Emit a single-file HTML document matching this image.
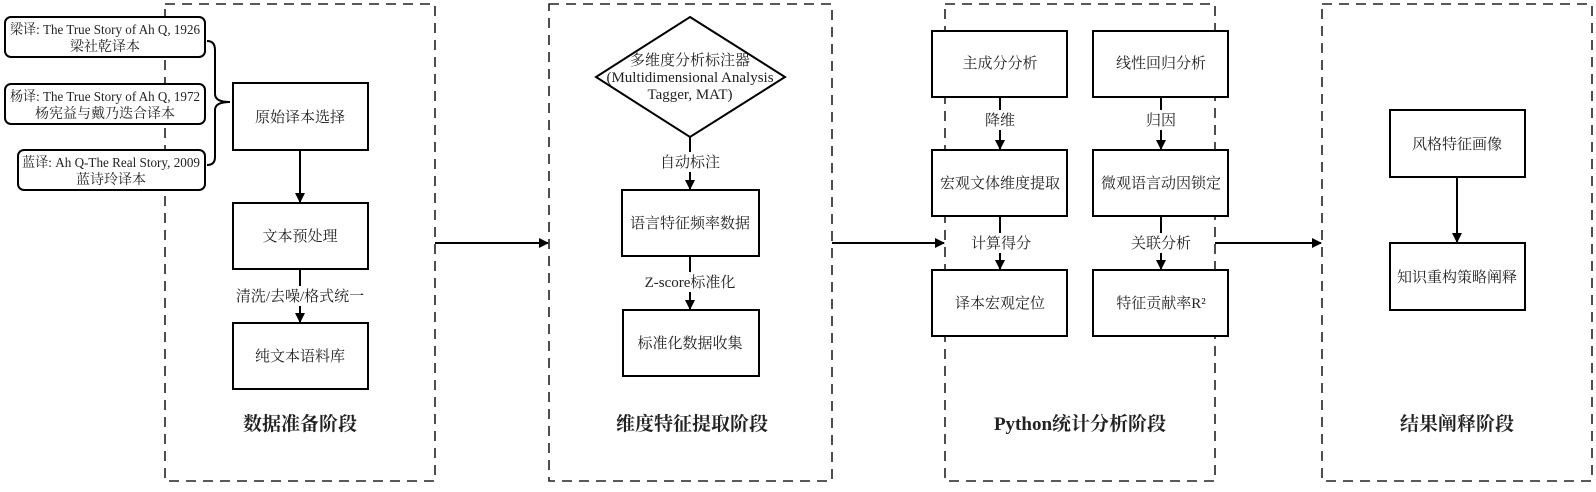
<!DOCTYPE html>
<html><head><meta charset="utf-8"><style>
html,body{margin:0;padding:0;background:#fff}
svg text{font-family:"Liberation Serif","Noto Serif CJK SC",serif;fill:#222}
</style></head><body>
<svg width="1596" height="487" viewBox="0 0 1596 487" xmlns="http://www.w3.org/2000/svg">
<defs><marker id="a" markerWidth="10" markerHeight="10" refX="9" refY="5" orient="auto" markerUnits="userSpaceOnUse"><path d="M0,0 L10,5 L0,10 z" fill="#000"/></marker></defs>
<g fill="none" stroke="#222" stroke-width="1.6" stroke-dasharray="10,7">
<rect x="165" y="4" width="270" height="477"/>
<rect x="549" y="4" width="283" height="477"/>
<rect x="945" y="4" width="270" height="477"/>
<rect x="1322" y="4" width="270" height="477"/>
</g>
<g stroke="#000" stroke-width="2" fill="#fff">
<rect x="5" y="17" width="200" height="40" rx="6"/>
<rect x="5" y="84" width="200" height="40" rx="6"/>
<rect x="18" y="150" width="187" height="40" rx="6"/>
<rect x="233" y="83" width="135" height="67"/>
<rect x="233" y="203" width="135" height="66"/>
<rect x="233" y="323" width="135" height="66"/>
<polygon points="690,17 785,77 690,137 596,77"/>
<rect x="622" y="190" width="137" height="66"/>
<rect x="623" y="310" width="136" height="66"/>
<rect x="932" y="31" width="135" height="66"/>
<rect x="1093" y="31" width="135" height="66"/>
<rect x="932" y="150" width="135" height="66"/>
<rect x="1093" y="150" width="135" height="66"/>
<rect x="932" y="270" width="135" height="66"/>
<rect x="1093" y="270" width="135" height="66"/>
<rect x="1390" y="110" width="135" height="67"/>
<rect x="1390" y="243" width="135" height="67"/>
</g>
<path d="M207,41 Q215,41 215,50 L215,94 Q215,102 230,102 Q215,102 215,110 L215,157 Q215,165 207,165" fill="none" stroke="#000" stroke-width="2"/>
<g stroke="#000" stroke-width="2" marker-end="url(#a)">
<line x1="300" y1="150" x2="300" y2="202"/>
<line x1="300" y1="269" x2="300" y2="322"/>
<line x1="690" y1="137" x2="690" y2="189"/>
<line x1="690" y1="256" x2="690" y2="309"/>
<line x1="1000" y1="97" x2="1000" y2="149"/>
<line x1="1161" y1="97" x2="1161" y2="149"/>
<line x1="1000" y1="216" x2="1000" y2="269"/>
<line x1="1161" y1="216" x2="1161" y2="269"/>
<line x1="1457" y1="177" x2="1457" y2="242"/>
<line x1="435" y1="243" x2="548" y2="243"/>
<line x1="832" y1="243" x2="944" y2="243"/>
<line x1="1215" y1="243" x2="1321" y2="243"/>
</g>
<g font-size="14" text-anchor="middle">
<text x="105" y="34" textLength="190" lengthAdjust="spacingAndGlyphs">梁译: The True Story of Ah Q, 1926</text><text x="105" y="51">梁社乾译本</text>
<text x="105" y="101" textLength="190" lengthAdjust="spacingAndGlyphs">杨译: The True Story of Ah Q, 1972</text><text x="105" y="118">杨宪益与戴乃迭合译本</text>
<text x="111" y="167" textLength="178" lengthAdjust="spacingAndGlyphs">蓝译: Ah Q-The Real Story, 2009</text><text x="111" y="184">蓝诗玲译本</text>
</g>
<g font-size="15" text-anchor="middle">
<text x="300" y="122">原始译本选择</text>
<text x="300" y="241">文本预处理</text>
<rect x="222" y="286" width="156" height="20" fill="#fff"/>
<text x="300" y="301">清洗/去噪/格式统一</text>
<text x="300" y="361">纯文本语料库</text>
<text x="690" y="65">多维度分析标注器</text>
<text x="690" y="82">(Multidimensional Analysis</text>
<text x="690" y="99">Tagger, MAT)</text>
<rect x="648" y="152" width="84" height="20" fill="#fff"/>
<text x="690" y="167">自动标注</text>
<text x="690" y="228">语言特征频率数据</text>
<rect x="636" y="272" width="108" height="20" fill="#fff"/>
<text x="690" y="287">Z-score标准化</text>
<text x="690" y="348">标准化数据收集</text>
<text x="1000" y="68">主成分分析</text>
<text x="1161" y="68">线性回归分析</text>
<rect x="982" y="110" width="36" height="20" fill="#fff"/>
<text x="1000" y="125">降维</text>
<rect x="1143" y="110" width="36" height="20" fill="#fff"/>
<text x="1161" y="125">归因</text>
<text x="1000" y="188">宏观文体维度提取</text>
<text x="1161" y="188">微观语言动因锁定</text>
<rect x="968" y="233" width="66" height="20" fill="#fff"/>
<text x="1001" y="248">计算得分</text>
<rect x="1128" y="233" width="66" height="20" fill="#fff"/>
<text x="1161" y="248">关联分析</text>
<text x="1000" y="308">译本宏观定位</text>
<text x="1161" y="308">特征贡献率R²</text>
<text x="1457" y="149">风格特征画像</text>
<text x="1457" y="282">知识重构策略阐释</text>
</g>
<g font-size="19" font-weight="bold" text-anchor="middle">
<text x="300" y="430">数据准备阶段</text>
<text x="692" y="430">维度特征提取阶段</text>
<text x="1080" y="430">Python统计分析阶段</text>
<text x="1457" y="430">结果阐释阶段</text>
</g>
</svg>
</body></html>
